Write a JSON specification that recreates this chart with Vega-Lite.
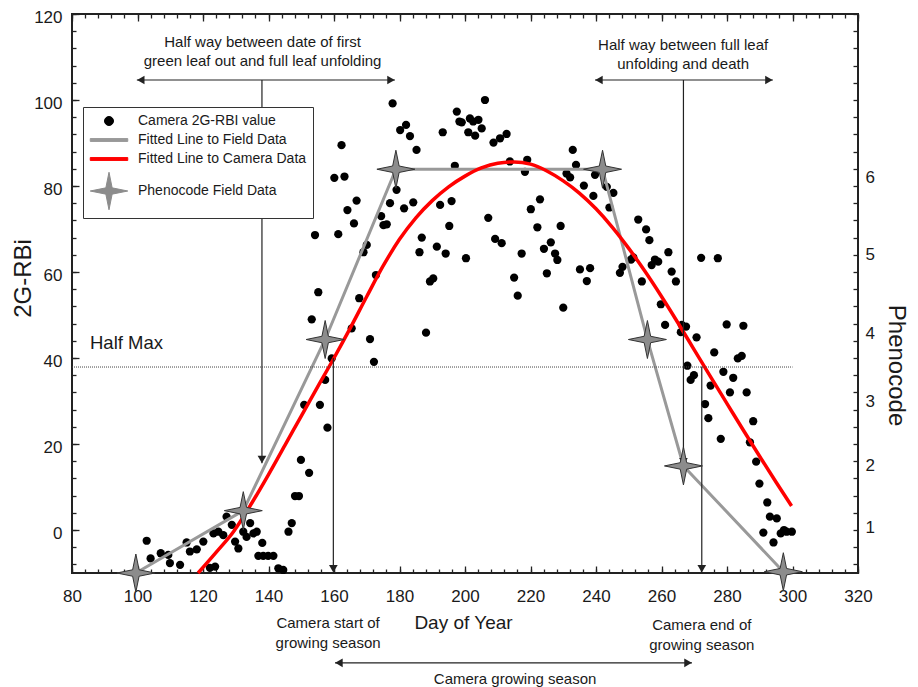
{
  "$schema": "https://vega.github.io/schema/vega-lite/v6.json",
  "width": 786,
  "height": 559,
  "autosize": {"type": "none"},
  "padding": {"left": 72, "top": 14, "right": 60, "bottom": 114},
  "background": "white",
  "config": {
    "view": {"stroke": "#222222", "strokeWidth": 2},
    "font": "Liberation Sans",
    "axis": {"grid": false, "labelFont": "Liberation Sans", "titleFont": "Liberation Sans", "labelColor": "#1a1a1a", "titleColor": "#1a1a1a", "tickColor": "#222222", "tickWidth": 1.3, "domain": false, "titleFontWeight": "normal", "labelOverlap": false, "labelFlush": false, "labelBound": false}
  },
  "datasets": {
    "cam": [
      {"day":102.8,"rbi":-2.5},{"day":104.0,"rbi":-6.6},{"day":107.1,"rbi":-5.4},{"day":109.4,"rbi":-5.8},{"day":109.9,"rbi":-7.7},{"day":113.0,"rbi":-8.1},{"day":115.0,"rbi":-2.9},{"day":116.0,"rbi":-5.0},{"day":118.1,"rbi":-4.5},{"day":120.1,"rbi":-2.7},{"day":122.1,"rbi":-8.8},{"day":123.2,"rbi":-0.8},{"day":123.7,"rbi":-8.5},{"day":124.7,"rbi":-0.4},{"day":126.2,"rbi":-1.2},{"day":127.2,"rbi":3.1},{"day":128.8,"rbi":1.2},{"day":129.8,"rbi":-2.7},{"day":130.8,"rbi":-4.3},{"day":132.3,"rbi":-0.4},{"day":133.3,"rbi":-1.6},{"day":134.4,"rbi":1.6},{"day":135.4,"rbi":-0.8},{"day":136.4,"rbi":-0.4},{"day":138.1,"rbi":-3.0},{"day":136.9,"rbi":-6.0},{"day":138.4,"rbi":-6.0},{"day":139.9,"rbi":-6.0},{"day":141.5,"rbi":-6.0},{"day":143.0,"rbi":-8.9},{"day":144.5,"rbi":-9.3},
      {"day":146.1,"rbi":-0.4},{"day":147.1,"rbi":1.6},{"day":148.1,"rbi":7.9},{"day":149.3,"rbi":7.9},{"day":149.9,"rbi":16.3},{"day":152.4,"rbi":13.3},{"day":150.9,"rbi":29.1},{"day":155.7,"rbi":29.1},{"day":158.0,"rbi":23.8},{"day":157.3,"rbi":34.9},{"day":159.3,"rbi":39.9},{"day":153.2,"rbi":49.0},{"day":155.2,"rbi":55.3},{"day":154.2,"rbi":68.6},{"day":161.3,"rbi":68.8},{"day":160.1,"rbi":81.9},{"day":163.2,"rbi":82.2},{"day":162.3,"rbi":89.5},{"day":164.1,"rbi":74.4},{"day":166.9,"rbi":76.6},{"day":166.1,"rbi":71.3},{"day":170.0,"rbi":66.3},{"day":169.0,"rbi":64.6},{"day":172.8,"rbi":59.3},{"day":167.7,"rbi":53.9},{"day":165.4,"rbi":46.9},{"day":171.0,"rbi":44.4},{"day":172.2,"rbi":39.1},{"day":174.4,"rbi":73.0},{"day":175.1,"rbi":70.9},{"day":176.1,"rbi":71.1},{"day":177.1,"rbi":76.0},{"day":179.1,"rbi":79.1},{"day":181.4,"rbi":74.8},{"day":184.2,"rbi":76.2},{"day":177.9,"rbi":99.2},{"day":180.2,"rbi":93.0},{"day":182.0,"rbi":94.2},{"day":183.2,"rbi":91.6},{"day":185.2,"rbi":88.4},{"day":193.2,"rbi":92.5},{"day":197.5,"rbi":97.3},{"day":198.3,"rbi":95.0},{"day":186.8,"rbi":68.0},{"day":186.1,"rbi":64.6},{"day":191.4,"rbi":65.9},{"day":194.1,"rbi":64.3},{"day":195.2,"rbi":70.7},{"day":192.4,"rbi":75.6},{"day":195.9,"rbi":76.5},{"day":189.3,"rbi":57.8},{"day":190.3,"rbi":58.5},{"day":188.1,"rbi":45.9},{"day":196.9,"rbi":84.7},
      {"day":206.1,"rbi":100.0},{"day":199.0,"rbi":94.8},{"day":201.5,"rbi":95.7},{"day":202.5,"rbi":95.0},{"day":204.1,"rbi":95.4},{"day":205.1,"rbi":93.4},{"day":201.0,"rbi":92.5},{"day":203.1,"rbi":91.7},{"day":208.7,"rbi":90.1},{"day":210.7,"rbi":91.1},{"day":212.7,"rbi":92.1},{"day":200.3,"rbi":63.2},{"day":207.1,"rbi":72.6},{"day":209.2,"rbi":67.7},{"day":211.2,"rbi":66.7},{"day":213.7,"rbi":85.7},{"day":219.0,"rbi":86.1},{"day":218.3,"rbi":83.3},{"day":222.9,"rbi":76.9},{"day":220.1,"rbi":74.6},{"day":222.1,"rbi":70.4},{"day":229.2,"rbi":70.7},{"day":217.3,"rbi":64.3},{"day":215.0,"rbi":58.7},{"day":216.1,"rbi":54.5},{"day":224.1,"rbi":65.4},{"day":226.2,"rbi":66.9},{"day":227.5,"rbi":64.3},{"day":228.2,"rbi":62.8},{"day":225.0,"rbi":59.7},{"day":230.0,"rbi":51.7},{"day":232.9,"rbi":88.4},{"day":233.9,"rbi":84.9},{"day":231.0,"rbi":82.9},{"day":232.1,"rbi":82.0},{"day":236.3,"rbi":80.1},{"day":239.2,"rbi":77.7},{"day":239.7,"rbi":82.6},{"day":243.3,"rbi":79.8},{"day":245.3,"rbi":78.4},{"day":244.1,"rbi":75.0},{"day":252.9,"rbi":72.2},{"day":255.3,"rbi":69.9},{"day":256.3,"rbi":67.4},{"day":262.1,"rbi":64.6},{"day":258.0,"rbi":62.9},{"day":259.0,"rbi":62.4},{"day":257.0,"rbi":61.6},{"day":250.7,"rbi":62.9},{"day":251.4,"rbi":63.4},{"day":248.1,"rbi":61.2},{"day":247.3,"rbi":59.8},{"day":235.1,"rbi":60.6},{"day":238.2,"rbi":60.9},{"day":237.2,"rbi":57.9},{"day":254.0,"rbi":57.8},{"day":263.1,"rbi":60.1},{"day":264.4,"rbi":57.8},{"day":259.8,"rbi":52.5},{"day":261.1,"rbi":47.7},{"day":266.2,"rbi":47.7},{"day":267.5,"rbi":47.3},{"day":265.9,"rbi":46.0},{"day":270.7,"rbi":44.8},{"day":272.1,"rbi":63.3},{"day":277.2,"rbi":63.2},{"day":279.9,"rbi":47.8},{"day":285.0,"rbi":47.5},{"day":276.1,"rbi":41.3},{"day":283.3,"rbi":39.9},{"day":284.5,"rbi":40.5},{"day":267.9,"rbi":38.2},{"day":269.9,"rbi":36.0},{"day":268.9,"rbi":34.9},{"day":278.9,"rbi":36.8},{"day":281.9,"rbi":35.4},{"day":275.0,"rbi":33.6},{"day":280.9,"rbi":32.0},{"day":286.0,"rbi":32.0},{"day":273.3,"rbi":29.3},{"day":274.3,"rbi":26.0},{"day":278.1,"rbi":21.2},{"day":288.0,"rbi":25.3},{"day":287.0,"rbi":20.4},{"day":288.9,"rbi":15.9},{"day":289.9,"rbi":10.8},{"day":292.3,"rbi":6.4},{"day":293.1,"rbi":3.1},{"day":295.2,"rbi":2.7},{"day":291.1,"rbi":-0.6},{"day":294.2,"rbi":-2.9},{"day":296.4,"rbi":-0.8},{"day":297.4,"rbi":0.0},{"day":298.2,"rbi":-0.4},{"day":299.8,"rbi":-0.4}
    ],
    "field": [
      {"day":99.5,"rbi":-10},{"day":132.3,"rbi":4.5},{"day":157.3,"rbi":44.3},{"day":178.9,"rbi":83.9},{"day":242.0,"rbi":83.9},{"day":255.7,"rbi":44.3},{"day":266.7,"rbi":14.9},{"day":297.2,"rbi":-9.7}
    ],
    "fit": [
      {"day":118.5,"rbi":-10},{"day":124,"rbi":-5.2},{"day":129.3,"rbi":-0.4},{"day":135,"rbi":6.4},{"day":140,"rbi":12.9},{"day":145,"rbi":19.7},{"day":150,"rbi":26.5},{"day":155,"rbi":33.3},{"day":160,"rbi":40.0},{"day":165,"rbi":47.0},{"day":170,"rbi":54.3},{"day":175,"rbi":61.4},{"day":180,"rbi":67.6},{"day":185,"rbi":72.6},{"day":190,"rbi":76.6},{"day":195,"rbi":79.8},{"day":200,"rbi":82.3},{"day":205,"rbi":84.2},{"day":210,"rbi":85.3},{"day":215,"rbi":85.6},{"day":220,"rbi":85.1},{"day":225,"rbi":83.5},{"day":230,"rbi":81.2},{"day":235,"rbi":78.3},{"day":240,"rbi":74.7},{"day":245,"rbi":70.4},{"day":250,"rbi":65.5},{"day":255,"rbi":60.1},{"day":260,"rbi":54.3},{"day":265,"rbi":48.2},{"day":270,"rbi":41.9},{"day":275,"rbi":35.6},{"day":280,"rbi":29.4},{"day":285,"rbi":23.2},{"day":290,"rbi":17.1},{"day":295,"rbi":11.1},{"day":299.7,"rbi":5.6}
    ],
    "arrows": [
      {"x":99.8,"y":104.65,"x2":178.6,"y2":104.65},
      {"x":138,"y":104.65,"x2":138,"y2":15.5},
      {"x":239.7,"y":104.65,"x2":294.0,"y2":104.65},
      {"x":266.7,"y":104.65,"x2":266.7,"y2":15},
      {"x":159.8,"y":40,"x2":159.8,"y2":-9.6},
      {"x":272.3,"y":38,"x2":272.3,"y2":-9.6},
      {"x":160.3,"y":-30.9,"x2":269.3,"y2":-30.9}
    ],
    "heads": [
      {"x":101.0,"y":104.65,"dir":"left"},{"x":177.4,"y":104.65,"dir":"right"},{"x":138,"y":16.4,"dir":"down"},
      {"x":240.9,"y":104.65,"dir":"left"},{"x":292.8,"y":104.65,"dir":"right"},{"x":266.7,"y":15.9,"dir":"down"},
      {"x":159.8,"y":-9.0,"dir":"down"},{"x":272.3,"y":-9.0,"dir":"down"},
      {"x":161.5,"y":-30.9,"dir":"left"},{"x":268.1,"y":-30.9,"dir":"right"}
    ],
    "halfmax": [{"x":80,"x2":300,"y":37.9,"label":"Half Max","lx":85.5,"ly":43.5}],
    "topnotes": [
      {"x":138.2,"y":113.5,"label":"Half way between date of first"},
      {"x":138.2,"y":109.1,"label":"green leaf out and full leaf unfolding"},
      {"x":266.6,"y":112.8,"label":"Half way between full leaf"},
      {"x":266.6,"y":108.4,"label":"unfolding and death"}
    ],
    "bottomnotes": [
      {"x":158.2,"y":-21.6,"label":"Camera start of"},
      {"x":158.2,"y":-26.3,"label":"growing season"},
      {"x":272.3,"y":-22.2,"label":"Camera end of"},
      {"x":272.3,"y":-26.8,"label":"growing season"},
      {"x":215.3,"y":-34.6,"label":"Camera growing season"}
    ]
  },
  "resolve": {"axis": {"x": "independent", "y": "independent"}},
  "layer": [
    {
      "data": {"name": "cam"},
      "mark": {"type": "point", "filled": true, "shape": "circle", "size": 68, "opacity": 1},
      "encoding": {
        "x": {"field": "day", "type": "quantitative", "scale": {"domain": [80, 320], "nice": false, "zero": false},
              "axis": {"orient": "bottom", "values": [80,100,120,140,160,180,200,220,240,260,280,300,320], "ticks": false, "labelPadding": 15, "labelFontSize": 17, "title": "Day of Year", "titleFontSize": 19, "titleX": 391, "titleY": 49, "titleBaseline": "middle", "titleAlign": "center"}},
        "y": {"field": "rbi", "type": "quantitative", "scale": {"domain": [-10, 120], "nice": false, "zero": false},
              "axis": {"orient": "left", "values": [0,20,40,60,80,100,120], "ticks": false, "labelPadding": 10, "labelFontSize": 17, "labelOffset": 3, "title": "2G-RBi", "titleFontSize": 24, "titleAngle": 270, "titleX": -49, "titleY": 264, "titleBaseline": "middle", "titleAlign": "center"}},
        "color": {"datum": "Camera 2G-RBI value", "type": "nominal",
          "scale": {"domain": ["Camera 2G-RBI value", "Fitted Line to Field Data", "Fitted Line to Camera Data", "Phenocode Field Data"], "range": ["#000000", "#999999", "#ff0000", "#8c8c8c"]},
          "legend": {"orient": "none", "legendX": 11, "legendY": 93, "title": null, "fillColor": "white", "strokeColor": "#333333", "padding": 6, "labelFont": "Liberation Sans", "labelFontSize": 14, "labelColor": "#1a1a1a", "labelLimit": 400, "symbolSize": 225, "symbolOffset": 12, "labelOffset": 21, "rowPadding": 4,
            "encoding": {"symbols": {
              "shape": {"value": {"expr": "datum.value === 'Camera 2G-RBI value' ? 'M0.6,0A0.6,0.6 0 1,1 -0.6,0A0.6,0.6 0 1,1 0.6,0Z' : datum.value === 'Phenocode Field Data' ? 'M0,-2.5L0.42,-0.42L2.5,0L0.42,0.42L0,2.5L-0.42,0.42L-2.5,0L-0.42,-0.42Z' : 'M-2.5,-0.19L2.5,-0.19L2.5,0.19L-2.5,0.19Z'"}},
              "fill": {"value": {"expr": "datum.value === 'Camera 2G-RBI value' ? '#000000' : datum.value === 'Fitted Line to Field Data' ? '#999999' : datum.value === 'Fitted Line to Camera Data' ? '#ff0000' : '#8c8c8c'"}},
              "stroke": {"value": {"expr": "datum.value === 'Phenocode Field Data' ? '#333333' : 'transparent'"}},
              "strokeWidth": {"value": 1},
              "opacity": {"value": 1},
              "fillOpacity": {"value": 1}
            }}}
        }
      }
    },
    {
      "data": {"name": "field"},
      "mark": {"type": "line", "strokeWidth": 3},
      "encoding": {
        "x": {"field": "day", "type": "quantitative", "axis": {"orient": "top", "offset": -559, "values": [80,100,120,140,160,180,200,220,240,260,280,300,320], "labels": false, "tickSize": 7, "title": null}},
        "y": {"field": "rbi", "type": "quantitative", "axis": {"orient": "right", "offset": -786, "values": [0,20,40,60,80,100,120], "labels": false, "tickSize": 7, "title": null}},
        "color": {"datum": "Fitted Line to Field Data", "type": "nominal"}
      }
    },
    {
      "data": {"name": "fit"},
      "mark": {"type": "line", "strokeWidth": 3.5, "interpolate": "monotone"},
      "encoding": {
        "x": {"field": "day", "type": "quantitative", "axis": {"orient": "top", "offset": -559, "values": [80,84,88,92,96,100,104,108,112,116,120,124,128,132,136,140,144,148,152,156,160,164,168,172,176,180,184,188,192,196,200,204,208,212,216,220,224,228,232,236,240,244,248,252,256,260,264,268,272,276,280,284,288,292,296,300,304,308,312,316,320], "labels": false, "tickSize": 4, "title": null}},
        "y": {"field": "rbi", "type": "quantitative", "axis": {"orient": "right", "offset": -786, "values": [-8,-4,0,4,8,12,16,20,24,28,32,36,40,44,48,52,56,60,64,68,72,76,80,84,88,92,96,100,104,108,112,116,120], "labels": false, "tickSize": 4, "title": null}},
        "color": {"datum": "Fitted Line to Camera Data", "type": "nominal"}
      }
    },
    {
      "data": {"name": "arrows"},
      "mark": {"type": "rule", "color": "#222222", "strokeWidth": 1.2},
      "encoding": {
        "x": {"field": "x", "type": "quantitative", "axis": {"orient": "bottom", "offset": -559, "values": [80,84,88,92,96,100,104,108,112,116,120,124,128,132,136,140,144,148,152,156,160,164,168,172,176,180,184,188,192,196,200,204,208,212,216,220,224,228,232,236,240,244,248,252,256,260,264,268,272,276,280,284,288,292,296,300,304,308,312,316,320], "labels": false, "tickSize": 4, "title": null}},
        "y": {"field": "y", "type": "quantitative", "axis": {"orient": "left", "offset": -786, "values": [-8,-4,0,4,8,12,16,20,24,28,32,36,40,44,48,52,56,60,64,68,72,76,80,84,88,92,96,100,104,108,112,116,120], "labels": false, "tickSize": 5, "title": null}},
        "x2": {"field": "x2"},
        "y2": {"field": "y2"}
      }
    },
    {
      "data": {"name": "halfmax"},
      "mark": {"type": "rule", "color": "#444444", "strokeWidth": 1, "strokeDash": [1, 1]},
      "encoding": {
        "x": {"field": "x", "type": "quantitative", "axis": null},
        "x2": {"field": "x2"},
        "y": {"field": "y", "type": "quantitative", "axis": null}
      }
    },
    {
      "data": {"name": "halfmax"},
      "mark": {"type": "text", "align": "left", "baseline": "middle", "fontSize": 18.5, "font": "Liberation Sans", "color": "#1a1a1a"},
      "encoding": {
        "x": {"field": "lx", "type": "quantitative", "axis": null},
        "y": {"field": "ly", "type": "quantitative", "axis": null},
        "text": {"field": "label"}
      }
    },
    {
      "data": {"name": "heads"},
      "mark": {"type": "point", "filled": true, "size": 75, "color": "#222222", "opacity": 1},
      "encoding": {
        "x": {"field": "x", "type": "quantitative", "axis": null},
        "y": {"field": "y", "type": "quantitative", "axis": null},
        "shape": {"field": "dir", "type": "nominal", "legend": null, "scale": {"domain": ["left", "right", "down"], "range": ["triangle-left", "triangle-right", "triangle-down"]}}
      }
    },
    {
      "data": {"name": "field"},
      "mark": {"type": "point", "filled": true, "shape": "M0,-1L0.17,-0.17L1,0L0.17,0.17L0,1L-0.17,0.17L-1,0L-0.17,-0.17Z", "size": 1444, "stroke": "#333333", "strokeWidth": 1, "opacity": 1},
      "encoding": {
        "x": {"field": "day", "type": "quantitative", "axis": {"orient": "bottom", "offset": -559, "values": [80,100,120,140,160,180,200,220,240,260,280,300,320], "labels": false, "tickSize": 7, "title": null}},
        "y": {"field": "rbi", "type": "quantitative", "axis": {"orient": "right", "values": [0.5,15.1,29.8,45.8,64,81.9], "ticks": false, "labelPadding": 7, "labelFontSize": 17, "labelAlign": "left", "labelBaseline": "middle", "labelExpr": "datum.value > 75 ? '6' : datum.value > 55 ? '5' : datum.value > 40 ? '4' : datum.value > 25 ? '3' : datum.value > 10 ? '2' : '1'", "title": "Phenocode", "titleFontSize": 24, "titleAngle": 90, "titleX": 37, "titleY": 351, "titleBaseline": "middle", "titleAlign": "center"}},
        "color": {"datum": "Phenocode Field Data", "type": "nominal"}
      }
    },
    {
      "data": {"name": "topnotes"},
      "mark": {"type": "text", "align": "center", "baseline": "middle", "fontSize": 15, "font": "Liberation Sans", "color": "#1a1a1a"},
      "encoding": {
        "x": {"field": "x", "type": "quantitative", "axis": null},
        "y": {"field": "y", "type": "quantitative", "axis": null},
        "text": {"field": "label"}
      }
    },
    {
      "data": {"name": "bottomnotes"},
      "mark": {"type": "text", "align": "center", "baseline": "middle", "fontSize": 15, "font": "Liberation Sans", "color": "#1a1a1a"},
      "encoding": {
        "x": {"field": "x", "type": "quantitative", "axis": null},
        "y": {"field": "y", "type": "quantitative", "axis": null},
        "text": {"field": "label"}
      }
    }
  ]
}
